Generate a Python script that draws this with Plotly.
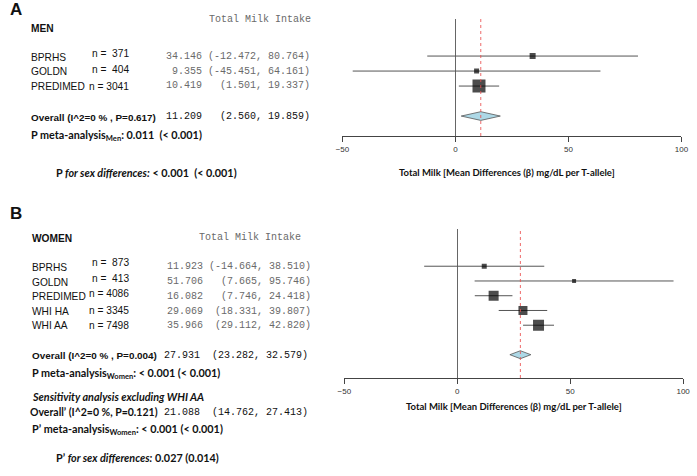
import plotly.graph_objects as go

# ---------------- data ----------------
men_studies = ["BPRHS", "GOLDN", "PREDIMED"]
men_n = [371, 404, 3041]
men_est = [34.146, 9.355, 10.419]
men_lo = [-12.472, -45.451, 1.501]
men_hi = [80.764, 64.161, 19.337]
men_overall = [11.209, 2.560, 19.859]

women_studies = ["BPRHS", "GOLDN", "PREDIMED", "WHI HA", "WHI AA"]
women_n = [873, 413, 4086, 3345, 7498]
women_est = [11.923, 51.706, 16.082, 29.069, 35.966]
women_lo = [-14.664, 7.665, 7.746, 18.331, 29.112]
women_hi = [38.510, 95.746, 24.418, 39.807, 42.820]
women_overall = [27.931, 23.282, 32.579]
women_overall_sens = [21.088, 14.762, 27.413]

tick_vals = [-50, 0, 50, 100]
axis_title = "Total Milk [Mean Differences (β) mg/dL per T-allele]"

# ---------------- helpers ----------------
W, H = 697, 476
def px(x):
    return x / W
def py(y):
    return 1 - y / H

NB = "\u00a0"
def fmt_ci(est, lo, hi):
    ci = f"({lo:.3f}, {hi:.3f})"
    return (f"{est:6.3f} {ci:>17}").replace(" ", NB)

ARIAL = "Liberation Sans, Arial, sans-serif"
MONO = "Liberation Mono, Courier New, monospace"
CAL = "Lato, Carlito, Calibri, sans-serif"

annotations = []
def txt(x, y, text, size=10, family=ARIAL, color="#111", anchor="left"):
    annotations.append(dict(
        x=px(x), y=py(y), xref="paper", yref="paper", text=text,
        showarrow=False, xanchor=anchor, yanchor="middle", borderpad=0, borderwidth=0,
        align=anchor if anchor in ("left", "right") else "center",
        font=dict(size=size, family=family, color=color)))

fig = go.Figure()

def forest(est, lo, hi, sizes, overall, xa, ya, dh):
    rows = list(range(1, len(est) + 1))
    wx, wy = [], []
    for r, l, h in zip(rows, lo, hi):
        wx += [l, h, None]
        wy += [r, r, None]
    fig.add_trace(go.Scatter(
        x=wx, y=wy, mode="lines", xaxis=xa, yaxis=ya,
        line=dict(color="#555", width=1), showlegend=False, hoverinfo="skip"))
    fig.add_trace(go.Scatter(
        x=est, y=rows, mode="markers", xaxis=xa, yaxis=ya,
        marker=dict(symbol="square", color="black", size=sizes, line=dict(width=0)),
        showlegend=False, hoverinfo="skip"))
    r = len(est) + 2
    oe, ol, oh = overall
    fig.add_trace(go.Scatter(
        x=[ol, oe, oh, oe, ol], y=[r, r - dh, r, r + dh, r],
        mode="lines", fill="toself", fillcolor="#ADD8E6",
        line=dict(color="#555", width=0.8), xaxis=xa, yaxis=ya,
        showlegend=False, hoverinfo="skip"))
    fig.add_shape(type="line", xref=xa, yref=ya + " domain",
                  x0=oe, x1=oe, y0=0, y1=1,
                  line=dict(color="rgba(235,80,80,0.85)", width=1, dash="dot"))

forest(men_est, men_lo, men_hi, [6, 5, 13], men_overall, "x", "y", 0.29)
forest(women_est, women_lo, women_hi, [5, 4, 10, 9, 11], women_overall, "x2", "y2", 0.27)

xcommon = dict(range=[-50, 100], tickvals=tick_vals, showline=True, linecolor="#444",
               linewidth=1, ticks="outside", ticklen=5, tickcolor="#444", tickwidth=1,
               tickfont=dict(size=8, family=ARIAL, color="#333"), showgrid=False,
               zeroline=True, zerolinecolor="#666", zerolinewidth=1, fixedrange=True)
ycommon = dict(showgrid=False, zeroline=False, showticklabels=False, showline=False,
               ticks="", fixedrange=True)

fig.update_layout(
    width=W, height=H, margin=dict(l=0, r=0, t=0, b=0),
    paper_bgcolor="white", plot_bgcolor="white",
    xaxis=dict(domain=[px(342.3), px(688.3)], anchor="y", **xcommon),
    yaxis=dict(domain=[py(136), py(19)], range=[6.33, -1.47], anchor="x", **ycommon),
    xaxis2=dict(domain=[px(344.3), px(690)], anchor="y2", **xcommon),
    yaxis2=dict(domain=[py(378), py(229)], range=[8.58, -1.525], anchor="x2", **ycommon),
)

GRAY = "#6a6a6a"
LS = 10.2   # label size (Arial)
OS = 9.9    # overall label size (Arial bold)
PS = 10.8   # Calibri-like lines
# ---------------- panel A text ----------------
txt(3, 9, "<b>A</b>", size=17)
txt(24, 28, "<b>MEN</b>", size=LS)
txt(310, 20, "Total Milk Intake", size=10, family=MONO, color=GRAY, anchor="right")
lab_y = [57.3, 71.7, 86]
n_y = [53.5, 69.5, 86]
for i, s in enumerate(men_studies):
    txt(24, lab_y[i], s, size=LS)
    txt(125, n_y[i], f"n ={NB}{NB}{men_n[i]}" if men_n[i] < 1000 else f"n = {men_n[i]}",
        size=LS, anchor="right")
    txt(309, lab_y[i] - 0.5, fmt_ci(men_est[i], men_lo[i], men_hi[i]), size=10,
        family=MONO, color=GRAY, anchor="right")
txt(24, 117, "<b>Overall (I^2=0 % , P=0.617)</b>", size=OS)
txt(309, 116.5, fmt_ci(*men_overall), size=10, family=MONO, color="#111", anchor="right")
txt(25, 135, "<b>P meta-analysis<sub>Men</sub>: 0.011" + NB + NB + "(< 0.001)</b>", size=PS, family=CAL)
txt(50, 172, "<b>P <i>for sex differences:</i> < 0.001" + NB + NB + "(< 0.001)</b>", size=PS, family=CAL)
txt(510, 172, "<b>" + axis_title + "</b>", size=9.5, family=CAL, anchor="center")

# ---------------- panel B text ----------------
txt(3, 214, "<b>B</b>", size=17)
txt(26, 238, "<b>WOMEN</b>", size=LS)
txt(300, 237, "Total Milk Intake", size=10, family=MONO, color=GRAY, anchor="right")
lab_y = [267, 282, 296.5, 311.5, 325.5]
n_y = [262.5, 278, 293.5, 310, 325]
for i, s in enumerate(women_studies):
    txt(26, lab_y[i], s, size=LS)
    txt(125, n_y[i], f"n ={NB}{NB}{women_n[i]}" if women_n[i] < 1000 else f"n = {women_n[i]}",
        size=LS, anchor="right")
    txt(310, lab_y[i] - 0.5, fmt_ci(women_est[i], women_lo[i], women_hi[i]), size=10,
        family=MONO, color=GRAY, anchor="right")
txt(26, 355, "<b>Overall (I^2=0 % , P=0.004)</b>", size=OS)
txt(307, 355, fmt_ci(*women_overall), size=10, family=MONO, color="#111", anchor="right")
txt(26, 373, "<b>P meta-analysis<sub>Women</sub>: < 0.001 (< 0.001)</b>", size=PS, family=CAL)
txt(26, 396, "<b><i>Sensitivity analysis excluding WHI AA</i></b>", size=PS, family=CAL)
txt(23, 412, "<b>Overall’ (I^2=0 %, P=0.121)</b>", size=10.5, family=CAL)
txt(307, 412, fmt_ci(*women_overall_sens), size=10, family=MONO, color="#111", anchor="right")
txt(26, 429, "<b>P’ meta-analysis<sub>Women</sub>: < 0.001 (< 0.001)</b>", size=PS, family=CAL)
txt(50, 457, "<b>P’ <i>for sex differences:</i> 0.027 (0.014)</b>", size=PS, family=CAL)
txt(517.5, 406, "<b>" + axis_title + "</b>", size=9.5, family=CAL, anchor="center")

fig.update_layout(annotations=annotations)
fig.write_html("out.html", config={"displayModeBar": False},
               post_script="document.body.style.margin='0';document.body.style.overflow='hidden';")
